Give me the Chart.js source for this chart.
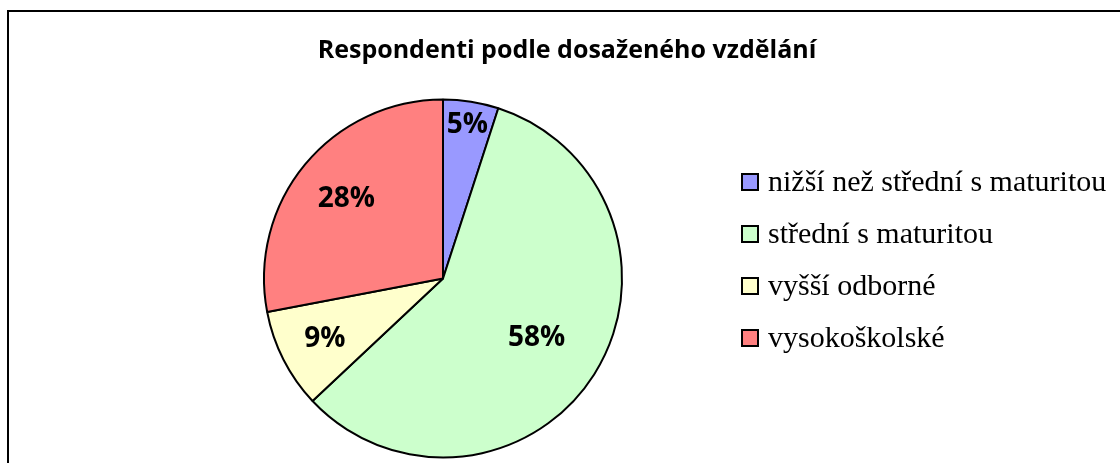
<!DOCTYPE html>
<html>
<head>
<meta charset="utf-8">
<script src="https://cdn.jsdelivr.net/npm/chart.js@4"></script>
<style>
  html, body { margin: 0; padding: 0; background: #fff; }
  #wrap { width: 1120px; height: 463px; position: relative; }
</style>
</head>
<body>
<div id="wrap"><canvas id="pie"></canvas></div>
<script>
const title = 'Respondenti podle dosaženého vzdělání';
const categories = [
  'nižší než střední s maturitou',
  'střední s maturitou',
  'vyšší odborné',
  'vysokoškolské',
];
const shares = [5, 58, 9, 28];
const sliceColors = ['#9999FF', '#CCFFCC', '#FFFFCC', '#FF8080'];

// frame, title, legend and percent labels (Excel look)
const excelDecor = {
  id: 'excelDecor',
  beforeDraw(chart) {
    const { ctx } = chart;
    ctx.save();
    ctx.strokeStyle = '#000';
    ctx.lineWidth = 2;
    ctx.strokeRect(8, 11, 1130, 470);
    ctx.restore();
  },
  afterDraw(chart, args, opts) {
    const { ctx } = chart;
    const meta = chart.getDatasetMeta(0);
    const data = chart.data.datasets[0].data;
    const total = data.reduce((a, b) => a + b, 0);

    ctx.save();
    ctx.fillStyle = '#000';
    ctx.textAlign = 'center';
    ctx.textBaseline = 'alphabetic';
    ctx.font = opts.titleFont;
    ctx.fillText(title, opts.titleX, opts.titleY);

    // percent labels
    ctx.font = opts.labelFont;
    ctx.textBaseline = 'middle';
    meta.data.forEach((arc, i) => {
      const mid = (arc.startAngle + arc.endAngle) / 2;
      const r = arc.outerRadius * opts.labelRadius[i];
      const x = arc.x + Math.cos(mid) * r;
      const y = arc.y + Math.sin(mid) * r;
      ctx.fillText(Math.round((data[i] / total) * 100) + '%', x, y);
    });

    // legend
    ctx.textAlign = 'left';
    ctx.textBaseline = 'middle';
    ctx.font = opts.legendFont;
    chart.data.labels.forEach((label, i) => {
      const y = opts.legendY + i * opts.legendGap;
      ctx.fillStyle = sliceColors[i];
      ctx.fillRect(opts.legendX, y - 8, 16, 16);
      ctx.strokeStyle = '#000';
      ctx.lineWidth = 2;
      ctx.strokeRect(opts.legendX, y - 8, 16, 16);
      ctx.fillStyle = '#000';
      ctx.fillText(label, opts.legendX + 26, y + 1);
    });
    ctx.restore();
  },
};

new Chart(document.getElementById('pie'), {
  type: 'pie',
  data: {
    labels: categories,
    datasets: [{
      data: shares,
      backgroundColor: sliceColors,
      borderColor: '#000',
      borderWidth: 2,
      borderAlign: 'center',
    }],
  },
  options: {
    responsive: true,
    maintainAspectRatio: false,
    animation: false,
    layout: {
      padding: { left: 263, right: 497, top: 98, bottom: 4 },
    },
    plugins: {
      legend: { display: false },
      title: { display: false },
      tooltip: { enabled: false },
      excelDecor: {
        titleFont: 'bold 25px "Open Sans"',
        titleX: 567,
        titleY: 58,
        labelFont: 'bold 28px "Open Sans"',
        labelRadius: [0.87, 0.62, 0.74, 0.7],
        legendFont: '30px "Liberation Serif"',
        legendX: 742,
        legendY: 182,
        legendGap: 52,
      },
    },
  },
  plugins: [excelDecor],
});
</script>
</body>
</html>
